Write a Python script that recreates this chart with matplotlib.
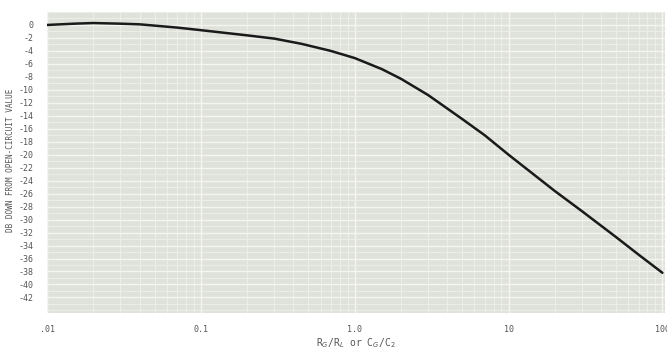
import matplotlib
matplotlib.use("Agg")
import matplotlib.pyplot as plt
import numpy as np

ratio = [0.01, 0.015, 0.02, 0.03, 0.04, 0.07, 0.1, 0.2, 0.3, 0.45, 0.7, 1.0, 1.5, 2.0, 3.0, 5.0, 7.0, 10.0, 20.0, 30.0, 50.0, 70.0, 100.0]
db_down = [0.0, 0.2, 0.3, 0.2, 0.1, -0.4, -0.8, -1.6, -2.1, -2.9, -4.0, -5.1, -6.8, -8.3, -10.8, -14.5, -17.0, -20.0, -25.6, -28.7, -32.7, -35.4, -38.2]
x_ticks = [0.01, 0.1, 1.0, 10.0, 100.0]
x_ticklabels = [".01", "0.1", "1.0", "10", "100"]
y_ticks = list(range(0, -43, -2))
y_ticklabels = ["0"] + [f"-{abs(v)}" for v in y_ticks[1:]]

fig = plt.figure(figsize=(6.67, 3.53), dpi=100)
fig.patch.set_facecolor("white")
ax = fig.add_axes([47/667, 1 - 313/353, (665-47)/667, (313-12)/353])
ax.set_facecolor("#dfe2da")
ax.set_xscale("log")
ax.set_xlim(0.01, 104)
ax.set_ylim(-44.4, 2.0)

# graph paper grid
ax.set_xticks(x_ticks)
ax.set_xticklabels(x_ticklabels)
ax.set_yticks(y_ticks)
ax.set_yticklabels(y_ticklabels)
ax.set_yticks(np.arange(-44, 2.1, 1.0), minor=True)
ax.grid(True, which="major", color="#f4f5f0", lw=1.0)
ax.grid(True, which="minor", color="#eef0ea", lw=0.6)
ax.set_axisbelow(True)

ax.plot(ratio, db_down, color="#1a1a1a", lw=1.8, solid_capstyle="round")

for s in ax.spines.values():
    s.set_visible(False)
ax.tick_params(axis="both", which="both", length=0, colors="#555555", labelsize=6)
ax.tick_params(axis="y", pad=10)
ax.tick_params(axis="x", pad=9)
for lbl in ax.get_xticklabels() + ax.get_yticklabels():
    lbl.set_family("DejaVu Sans Mono")

fig.text(11/667, 1 - 160/353, "DB DOWN FROM OPEN-CIRCUIT VALUE", rotation=90,
         fontsize=5.5, color="#555555", family="DejaVu Sans Mono",
         ha="center", va="center")
ax.set_xlabel(r"R$_G$/R$_L$ or C$_G$/C$_2$", fontsize=7, color="#555555",
              family="DejaVu Sans Mono", labelpad=1)

fig.savefig("out.png", dpi=100)
